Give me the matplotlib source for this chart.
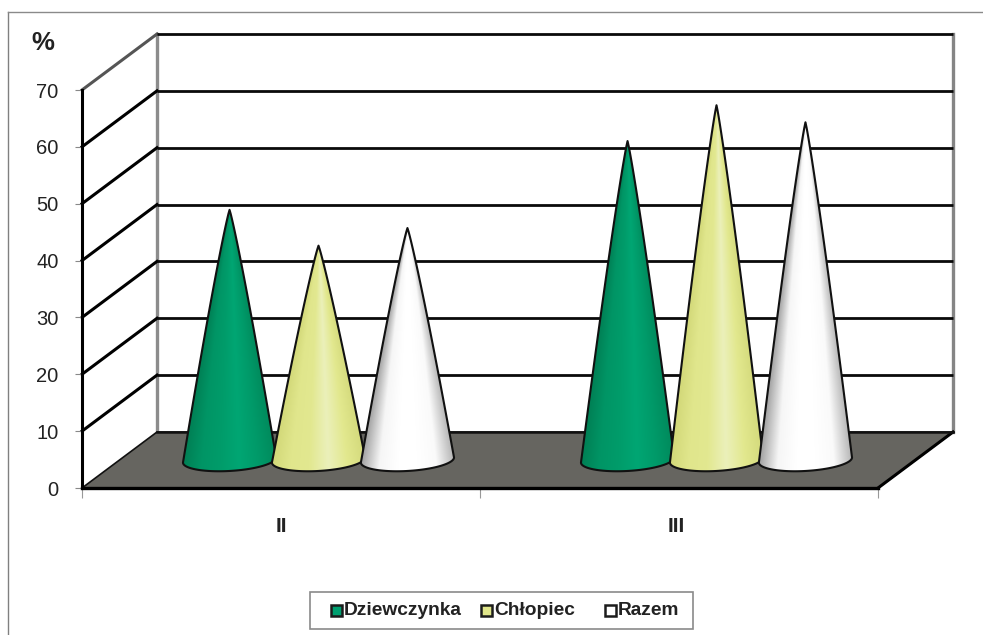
# 3D-style cone chart, share of pupils by class and sex

import numpy as np
import matplotlib
matplotlib.use("Agg")
import matplotlib.pyplot as plt
from matplotlib.colors import LinearSegmentedColormap
from matplotlib.patches import Polygon, Rectangle
from matplotlib.transforms import Affine2D

plt.rcParams['font.family'] = ['Liberation Sans', 'DejaVu Sans']

classes = ["II", "III"]
series = ["Dziewczynka", "Chłopiec", "Razem"]
values = {
    "Dziewczynka": [44.0, 56.1],
    "Chłopiec": [37.7, 62.4],
    "Razem": [40.8, 59.4],
}
y_ticks = [0, 10, 20, 30, 40, 50, 60, 70]

# horizontal shading of each cone, left edge to right edge
shades = {
    "Dziewczynka": ["#007f54", "#009565", "#009c6a", "#00a673", "#009a69", "#008a5c"],
    "Chłopiec": ["#d2d878", "#e0e68c", "#e2e890", "#ebf0ba", "#e2e88e", "#d4da7c"],
    "Razem": ["#a0a0a0", "#f6f6f6", "#ffffff", "#ffffff", "#fafafa", "#b4b4b4"],
}
legend_fill = {"Dziewczynka": "#00a070", "Chłopiec": "#e0e68a", "Razem": "#ffffff"}
legend_x = {"Dziewczynka": 331, "Chłopiec": 481, "Razem": 605}

W, H = 983, 635
fig = plt.figure(figsize=(W / 100, H / 100), dpi=100, facecolor="white")
ax = fig.add_axes([82 / W, 1 - 488 / H, 796 / W, 398 / H])
ax.set_xlim(0, 2)
ax.set_ylim(0, 70)
ax.patch.set_visible(False)

# pixel coordinates, origin at the top left, for the frame and legend
px = Affine2D().scale(1 / W, -1 / H).translate(0, 1) + fig.transFigure

# depth of the box in data units
depth_x = 75 / 398
depth_y = 56 / 398 * 70

# walls
ax.plot([depth_x, depth_x], [depth_y, 70 + depth_y], color="#8c8c8c", lw=2.4, clip_on=False, zorder=1)
ax.plot([2 + depth_x, 2 + depth_x], [depth_y, 70 + depth_y], color="#858585", lw=2.4, clip_on=False, zorder=1)
for v in y_ticks[1:]:
    grid_c = "#555555" if v == 70 else "black"
    ax.plot([0, depth_x], [v, v + depth_y], color=grid_c, lw=2.2, clip_on=False, zorder=1)
    ax.plot([depth_x, 2 + depth_x], [v + depth_y] * 2, color="#0a0a0a", lw=2.0, clip_on=False, zorder=1,
            solid_capstyle="butt")

# floor
floor = Polygon([(0, 0), (2, 0), (2 + depth_x, depth_y), (depth_x, depth_y)], closed=True,
                facecolor="#666560", edgecolor="#111111", lw=1.2, clip_on=False, zorder=2)
ax.add_patch(floor)
ax.plot([0, 2], [0, 0], color="black", lw=2.4, clip_on=False, zorder=3)
ax.plot([2, 2 + depth_x], [0, depth_y], color="black", lw=2.2, clip_on=False, zorder=3)
ax.plot([depth_x, 2 + depth_x], [depth_y, depth_y], color="#111111", lw=1.8, clip_on=False, zorder=3)

# cones
half_w = 0.117
base_b = 1.93
tilt = 0.45
spacing = 0.2235
bulge = 0.9


def draw_cone(cx, value, colors, z):
    base_y = depth_y / 2
    top = base_y + value
    t = np.linspace(np.pi, 2 * np.pi, 80)
    arc_x = cx + half_w * np.cos(t)
    arc_y = base_y + base_b * np.sin(t) + tilt * np.cos(t)

    # sides swell slightly on the way down
    f = np.linspace(0, 1, 60)[1:-1]
    side_y = top - f * value
    left = np.column_stack([cx - half_w * f ** bulge, side_y - tilt * f])
    right = np.column_stack([cx + half_w * f ** bulge, side_y + tilt * f])[::-1]
    outline = np.vstack([[(cx, top)], left, np.column_stack([arc_x, arc_y]), right])

    # shading follows the cone, narrowing towards the tip
    cmap = LinearSegmentedColormap.from_list("cone", colors)
    xs = np.linspace(cx - half_w, cx + half_w, 200)
    ys = np.linspace(base_y - base_b - 0.5, top, 400)
    xx, yy = np.meshgrid(xs, ys)
    frac = np.clip((top - yy) / value, 0.004, None) ** bulge
    u = np.clip((xx - cx) / (half_w * frac) / 2 + 0.5, 0, 1)
    img = ax.imshow(cmap(u), origin="lower", aspect="auto", zorder=z, interpolation="bilinear",
                    extent=(xs[0], xs[-1], ys[0], ys[-1]))
    patch = Polygon(outline, closed=True, facecolor="none", edgecolor="#111111", lw=1.5,
                    joinstyle="round", clip_on=False, zorder=z + 0.1)
    ax.add_patch(patch)
    img.set_clip_path(patch)


for i, cls in enumerate(classes):
    for j, name in enumerate(series):
        cx = i + 0.5 + depth_x / 2 + (j - 1) * spacing
        draw_cone(cx, values[name][i], shades[name], 4 + i + j * 0.2)

ax.set_xlim(0, 2)
ax.set_ylim(0, 70)

# axes
for s in ["top", "right", "bottom"]:
    ax.spines[s].set_visible(False)
ax.spines["left"].set_color("black")
ax.spines["left"].set_linewidth(2.2)
ax.set_yticks(y_ticks)
ax.set_xticks([0, 1, 2])
ax.set_xticklabels([])
ax.tick_params(axis="y", length=5, width=0.8, color="#888888", labelsize=14.5, labelcolor="#222222", pad=12)
ax.tick_params(axis="x", length=7, width=0.8, color="#999999")
for i, cls in enumerate(classes):
    ax.text(i + 0.5 - 0.006 * i, -6.7, cls, ha="center", va="center", fontsize=15, fontweight="bold",
            color="#222222", clip_on=False)

fig.text(43, 43, "%", transform=px, ha="center", va="center", fontsize=18.5, fontweight="bold", color="#222222")

# outer frame
fig.add_artist(plt.Line2D([8, 8], [635, 11.5], transform=px, color="#808080", lw=1))
fig.add_artist(plt.Line2D([8, 983], [11.5, 11.5], transform=px, color="#8a8a8a", lw=1))

# legend
fig.add_artist(Rectangle((310, 592), 383, 37, transform=px, facecolor="white", edgecolor="#8a8a8a", lw=1.2))
for name in series:
    x0 = legend_x[name]
    fig.add_artist(Rectangle((x0, 605), 10.5, 10.5, transform=px, facecolor=legend_fill[name],
                             edgecolor="#1c1c1c", lw=1.8))
    fig.text(x0 + 13, 610.5, name, transform=px, ha="left", va="center", fontsize=13.8, fontweight="bold",
             color="#222222")

fig.savefig("out.png", dpi=100)
